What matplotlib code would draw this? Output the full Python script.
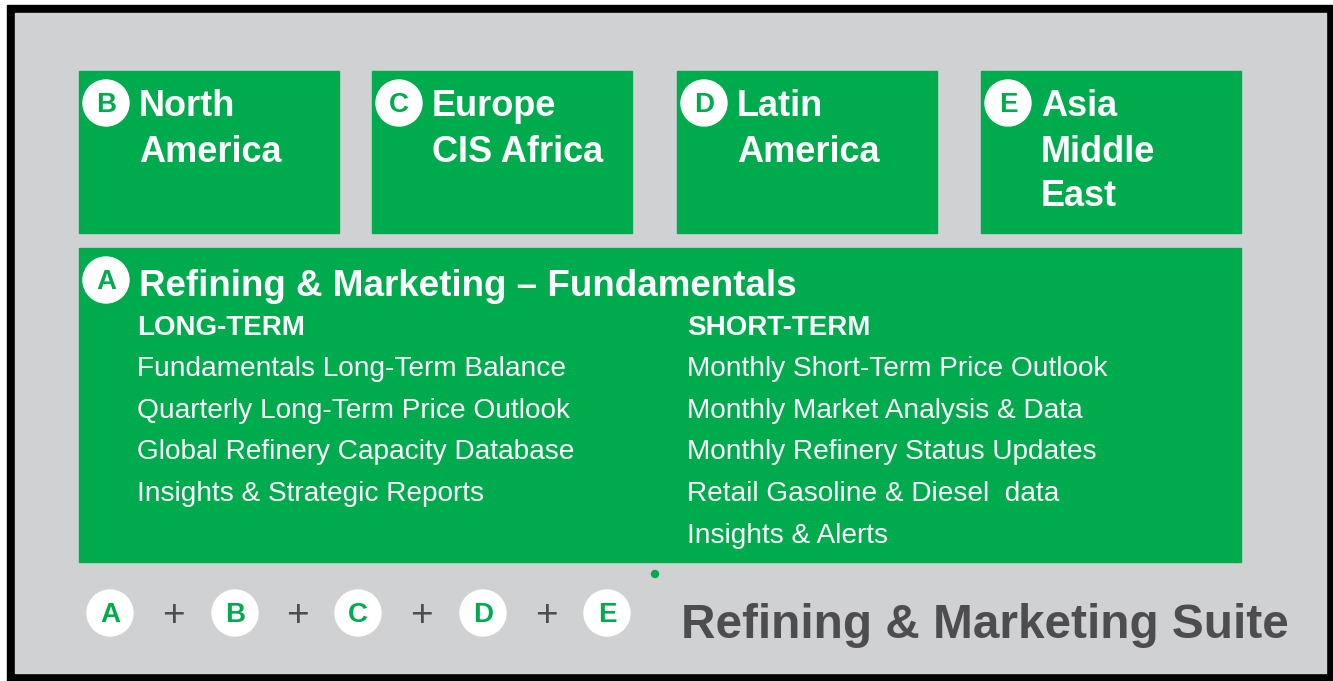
import matplotlib
matplotlib.use("Agg")
import matplotlib.pyplot as plt
from matplotlib.patches import Rectangle, Circle

GREEN = "#00AB4E"
GRAY = "#D0D1D3"
DARK = "#4D4D4F"

region_letters = ["B", "C", "D", "E"]
region_names = [["North", "America"], ["Europe", "CIS Africa"], ["Latin", "America"], ["Asia", "Middle", "East"]]
fundamentals_title = "Refining & Marketing \u2013 Fundamentals"
long_term_header = "LONG-TERM"
long_term_items = ["Fundamentals Long-Term Balance", "Quarterly Long-Term Price Outlook",
                   "Global Refinery Capacity Database", "Insights & Strategic Reports"]
short_term_header = "SHORT-TERM"
short_term_items = ["Monthly Short-Term Price Outlook", "Monthly Market Analysis & Data",
                    "Monthly Refinery Status Updates", "Retail Gasoline & Diesel  data",
                    "Insights & Alerts"]
suite_letters = ["A", "B", "C", "D", "E"]
suite_title = "Refining & Marketing Suite"

plt.rcParams["font.family"] = ["Liberation Sans", "DejaVu Sans"]

fig = plt.figure(figsize=(13.33, 6.81), dpi=100)
ax = fig.add_axes([0, 0, 1, 1])
ax.set_xlim(0, 1333)
ax.set_ylim(681, 0)
ax.axis("off")

# frame
ax.add_patch(Rectangle((7, 5), 1326, 676, color="black"))
ax.add_patch(Rectangle((15, 13), 1311, 660, color=GRAY))


def badge(x, y, letter, r=23, size=20):
    ax.add_patch(Circle((x, y), r, color="white"))
    ax.text(x, y + 2, letter, color=GREEN, fontsize=size, fontweight="bold",
            ha="center", va="center")


# region boxes
box_x = [79, 372, 677, 981]
for bx, letter, lines in zip(box_x, region_letters, region_names):
    ax.add_patch(Rectangle((bx, 71), 260, 162, color=GREEN))
    badge(bx + 27, 103, letter)
    for i, line in enumerate(lines):
        ax.text(bx + 60, 107 + 45 * i, line, color="white", fontsize=26,
                fontweight="bold", ha="left", va="center")

# fundamentals box
ax.add_patch(Rectangle((79, 248), 1162, 314, color=GREEN))
badge(106, 280, "A")
ax.text(139, 286, fundamentals_title, color="white", fontsize=26.5,
        fontweight="bold", ha="left", va="center")
ax.text(137, 328, long_term_header, color="white", fontsize=20,
        fontweight="bold", ha="left", va="center")
ax.text(687, 328, short_term_header, color="white", fontsize=20,
        fontweight="bold", ha="left", va="center")
for i, item in enumerate(long_term_items):
    ax.text(137, 369 + 41.7 * i, item, color="white", fontsize=20.2,
            ha="left", va="center")
for i, item in enumerate(short_term_items):
    ax.text(687, 369 + 41.7 * i, item, color="white", fontsize=20.2,
            ha="left", va="center")

ax.add_patch(Circle((655, 574), 3.5, color=GREEN))

# suite row
suite_x = [110, 235, 358, 483, 607]
for i, (sx, letter) in enumerate(zip(suite_x, suite_letters)):
    badge(sx, 613, letter)
    if i < len(suite_x) - 1:
        ax.text((sx + suite_x[i + 1]) / 2 + 1, 616, "+", color=DARK, fontsize=28,
                ha="center", va="center")
ax.text(681, 625, suite_title, color=DARK, fontsize=34.4, fontweight="bold",
        ha="left", va="center")

fig.savefig("out.png", dpi=100)
